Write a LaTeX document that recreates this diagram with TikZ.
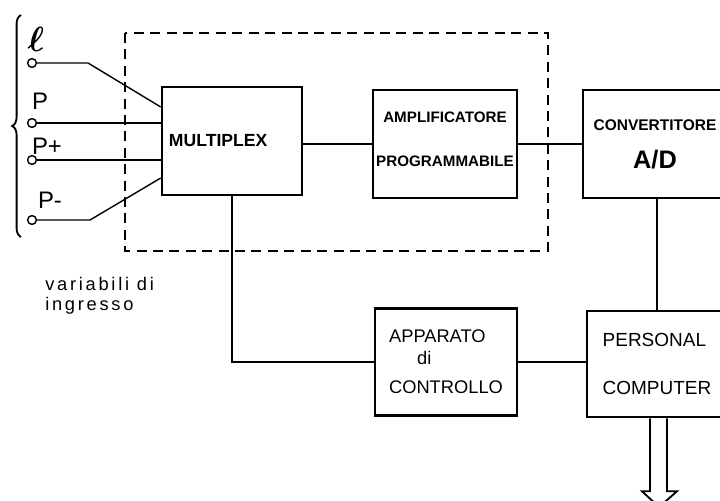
\documentclass[tikz,border=0pt]{standalone}
\usepackage{fontspec}
\usepackage{bm}
\setmainfont{Liberation Sans}
\usetikzlibrary{positioning, calc, decorations.pathreplacing}
\tikzset{
  % Blocchi dello schema
  block/.style={draw, line width=1.8pt, inner sep=2pt, align=left},
  block bold/.style={block, align=center},
  % Collegamenti
  connect/.style={line width=1pt},
  % Morsetti di ingresso
  terminal/.style={draw, circle, line width=1pt, minimum size=0.22cm, inner sep=0},
  label in/.style={inner sep=0, font=\fontsize{17}{17}\selectfont}
}
\begin{document}
\begin{tikzpicture}[x=0.025cm, y=-0.025cm]
  \useasboundingbox (0,0) rectangle (720,500);
  \clip (0,0) rectangle (720,500);
  % Blocchi
  \node[block, minimum width=3.5cm, minimum height=2.7cm, text width=3.15cm,
    font=\bfseries\fontsize{12.5}{12.5}\selectfont] (mux) at (232,141) {MULTIPLEX};
  \node[block bold, minimum width=3.6cm, minimum height=2.7cm,
    font=\bfseries\fontsize{10.8}{10.8}\selectfont] (amp) at (445,144) {AMPLIFICATORE\\[20pt]PROGRAMMABILE\\[-4pt]};
  \node[block bold, minimum width=3.6cm, minimum height=2.7cm,
    font=\bfseries\fontsize{11}{11}\selectfont] (adc) at (655,144) {CONVERTITORE\\[13pt]{\fontsize{18}{18}\selectfont A/D}};
  \node[block, minimum width=3.55cm, minimum height=2.675cm,
    font=\fontsize{13}{13}\selectfont] (ctl) at (446,362) {APPARATO\\[2pt]\hspace*{0.7cm}di\\[8pt]CONTROLLO};
  \node[block, minimum width=3.5cm, minimum height=2.65cm,
    font=\fontsize{13.5}{13.5}\selectfont] (pc) at (657,364) {PERSONAL\\[20pt]COMPUTER};
  % Riquadro tratteggiato
  \draw[line width=1.4pt, dash pattern=on 2.5mm off 1.6mm] (125,33) rectangle (548,251);
  % Collegamenti tra i blocchi
  \draw[connect] (mux.east |- amp.west) -- (amp.west);
  \draw[connect] (amp.east) -- (adc.west);
  \draw[connect] (adc.south -| pc.north) -- (pc.north);
  \draw[connect] (ctl.east) -- (ctl.east -| pc.west);
  \draw[connect] (mux.south) |- (ctl.west);
  % Uscita del personal computer
  \coordinate (outl) at ($(pc.south)+(-7,0)$);
  \coordinate (outr) at ($(pc.south)+(10,0)$);
  \coordinate (tip) at (659,507);
  \draw[line width=1.3pt, line join=miter] (outl) -- ++(0,73) -- ++(-8,0) -- (tip)
    -- ($(outr)+(10,73)$) -- ($(outr)+(0,73)$) -- (outr);
  % Variabili di ingresso
  \node[terminal] (inl) at (32,63) {};
  \node[terminal] (inp) at (32,123) {};
  \node[terminal] (inpp) at (32,160) {};
  \node[terminal] (inpm) at (32,220) {};
  \coordinate (kl) at (88,63);
  \coordinate (kpm) at (90,220);
  \draw[connect] (inl) -- (kl) -- ([yshift=0.85cm]mux.west);
  \draw[connect] (inp) -- (inp -| mux.west);
  \draw[connect] (inpp) -- (inpp -| mux.west);
  \draw[connect] (inpm) -- (kpm) -- ([yshift=-0.925cm]mux.west);
  \node[label in, font=\fontsize{24}{24}\selectfont] (lbl) at (36,39) {$\bm{\ell}$};
  \node[label in] (lbp) at (40,101) {P};
  \node[label in] (lbpp) at (47,146) {P+};
  \node[label in] (lbpm) at (50,200) {P-};
  \coordinate (brb) at (21,237);
  \coordinate (brt) at (21,15);
  \draw[line width=1.3pt, decorate, decoration={brace, amplitude=0.22cm}] (brb) -- (brt);
  \node[anchor=north west, align=left, inner sep=0,
    font=\fontsize{13}{14}\selectfont\addfontfeature{LetterSpace=15}] (var) at (45,277) {variabili di\\ingresso};
\end{tikzpicture}
\end{document}
